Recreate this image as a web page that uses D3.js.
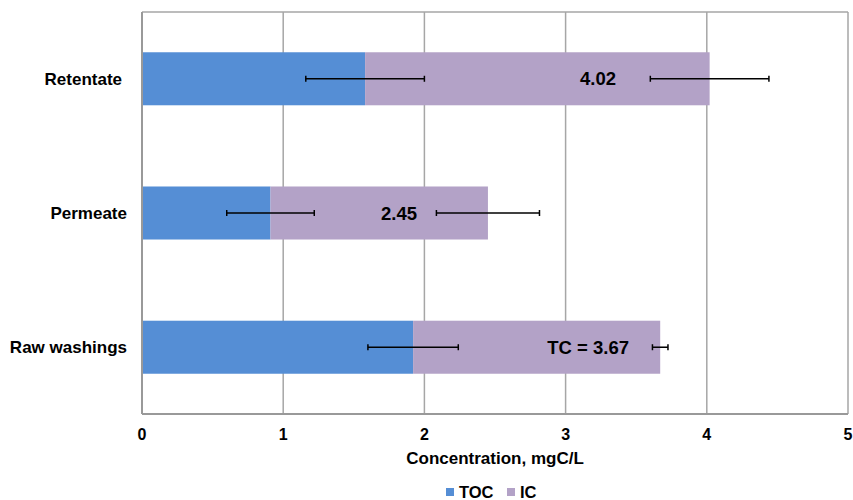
<!DOCTYPE html>
<html><head><meta charset="utf-8">
<script src="https://cdn.jsdelivr.net/npm/d3@7"></script>
<style>body{margin:0;background:#fff}svg{display:block}text{font-family:"Liberation Sans",Arial,sans-serif;font-weight:bold;fill:#000}</style>
</head><body><div id="chart"></div>
<script>
const categories = ["Retentate", "Permeate", "Raw washings"];
const tocValues = [1.58, 0.91, 1.92];
const icValues = [2.44, 1.54, 1.75];
const tocErrors = [0.42, 0.31, 0.32];
const tcErrors = [0.42, 0.365, 0.055];
const totalLabels = ["4.02", "2.45", "TC = 3.67"];
const labelPositions = [3.23, 1.82, 3.16];
const xTicks = [0, 1, 2, 3, 4, 5];
const seriesNames = ["TOC", "IC"];
const colors = ["#558ED5", "#B3A2C7"];

const W = 853, H = 500;
const m = {left: 142, right: 5, top: 12, bottom: 86};
const svg = d3.select("#chart").append("svg").attr("width", W).attr("height", H);

const x = d3.scaleLinear().domain([0, 5]).range([m.left, W - m.right]);
const y = d3.scaleBand().domain(categories).range([m.top, H - m.bottom]).paddingInner(0.605).paddingOuter(0.3);

const g = svg.append("g");
g.selectAll("line.grid").data(xTicks).join("line")
  .attr("x1", d => x(d)).attr("x2", d => x(d))
  .attr("y1", m.top).attr("y2", H - m.bottom)
  .attr("stroke", "#a6a6a6").attr("stroke-width", 1.5);
g.append("line").attr("x1", m.left).attr("x2", W - m.right).attr("y1", m.top).attr("y2", m.top).attr("stroke", "#a6a6a6").attr("stroke-width", 1.5);
g.append("line").attr("x1", m.left).attr("x2", W - m.right).attr("y1", H - m.bottom).attr("y2", H - m.bottom).attr("stroke", "#999").attr("stroke-width", 2);
g.append("line").attr("x1", m.left).attr("x2", m.left).attr("y1", m.top).attr("y2", H - m.bottom).attr("stroke", "#999").attr("stroke-width", 2);

const rows = categories.map((c, i) => ({c, toc: tocValues[i], ic: icValues[i], te: tocErrors[i], ce: tcErrors[i], lab: totalLabels[i], lp: labelPositions[i]}));

g.selectAll("rect.toc").data(rows).join("rect")
  .attr("x", x(0)+1).attr("y", d => y(d.c)).attr("height", y.bandwidth())
  .attr("width", d => x(d.toc) - x(0) - 1).attr("fill", colors[0]);
g.selectAll("rect.ic").data(rows).join("rect")
  .attr("x", d => x(d.toc)).attr("y", d => y(d.c)).attr("height", y.bandwidth())
  .attr("width", d => x(d.toc + d.ic) - x(d.toc)).attr("fill", colors[1]);

function errBar(sel, cx, e) {
  sel.each(function(d) {
    const gg = d3.select(this);
    const cy = y(d.c) + y.bandwidth() / 2;
    const c = cx(d), er = e(d);
    gg.append("line").attr("x1", x(c - er)).attr("x2", x(c + er)).attr("y1", cy).attr("y2", cy).attr("stroke", "#000").attr("stroke-width", 1.5);
    [c - er, c + er].forEach(v => gg.append("line").attr("x1", x(v)).attr("x2", x(v)).attr("y1", cy - 3).attr("y2", cy + 3).attr("stroke", "#000").attr("stroke-width", 1.5));
  });
}
errBar(g.selectAll("g.et").data(rows).join("g"), d => d.toc, d => d.te);
errBar(g.selectAll("g.ec").data(rows).join("g"), d => d.toc + d.ic, d => d.ce);

g.selectAll("text.val").data(rows).join("text")
  .attr("x", d => x(d.lp)).attr("y", d => y(d.c) + y.bandwidth() / 2)
  .attr("text-anchor", "middle").attr("dy", "0.36em")
  .style("font-size", "18.5px").text(d => d.lab);

g.selectAll("text.cat").data(rows).join("text")
  .attr("x", d => d.c === "Retentate" ? 122 : 127).attr("y", d => y(d.c) + y.bandwidth() / 2)
  .attr("text-anchor", "end").attr("dy", "0.36em")
  .style("font-size", "17px").text(d => d.c);

g.selectAll("text.tick").data(xTicks).join("text")
  .attr("x", d => x(d)).attr("y", 440).attr("text-anchor", "middle")
  .style("font-size", "16px").text(d => d);

svg.append("text").attr("x", (x(0) + x(5)) / 2).attr("y", 464).attr("text-anchor", "middle")
  .style("font-size", "17px").text("Concentration, mgC/L");

const leg = svg.append("g");
const legX = [446, 507];
seriesNames.forEach((s, i) => {
  leg.append("rect").attr("x", legX[i]).attr("y", 488).attr("width", 8).attr("height", 8).attr("fill", colors[i]);
  leg.append("text").attr("x", legX[i] + 13).attr("y", 498).style("font-size", "16.5px").text(s);
});
</script></body></html>
